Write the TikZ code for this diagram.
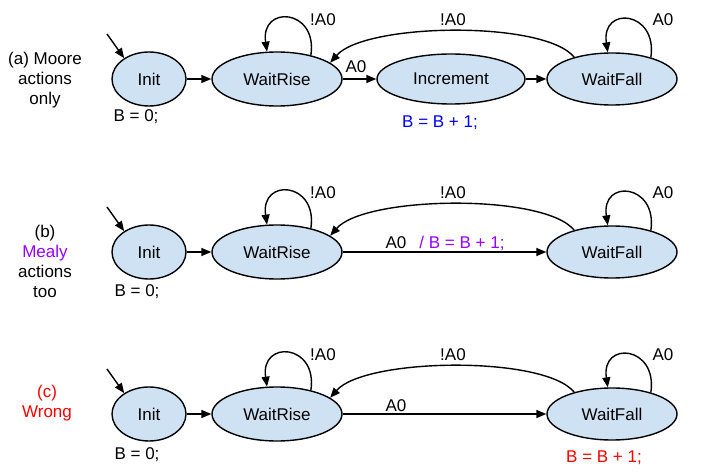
\documentclass[tikz,border=0pt]{standalone}
\usepackage{fontspec}
\setmainfont{Liberation Sans}
\usetikzlibrary{arrows.meta,shapes.geometric}
\definecolor{sfill}{HTML}{CFE2F3}
\definecolor{mblue}{HTML}{0000FF}
\definecolor{mpurple}{HTML}{9900FF}
\definecolor{mred}{HTML}{FF0000}
\begin{document}
\begin{tikzpicture}[x=1pt,y=-1pt,
  state/.style={ellipse, draw, fill=sfill, line width=1.4pt, inner sep=0pt,
    minimum height=54pt, font=\fontsize{17}{20}\selectfont},
  lab/.style={font=\fontsize{17}{20}\selectfont, inner sep=0pt},
  side/.style={font=\fontsize{17}{20}\selectfont, inner sep=0pt, align=center},
  arr/.style={-{Triangle[length=10pt,width=8pt]}, line width=1.4pt},
  selfloop/.style={arr}]
\useasboundingbox (0,0) rectangle (720,473);
\fill[white] (0,0) rectangle (720,473);

% ---------------- Row (a) ----------------
\node[side] (sa) at (45,80) {(a) Moore\\actions\\only};
\node[state, minimum width=74pt] (Ia) at (149,79) {Init};
\node[state, minimum width=130pt] (Ra) at (277,79) {WaitRise};
\node[state, minimum width=148pt, minimum height=50pt] (Na) at (451,79) {Increment};
\node[state, minimum width=130pt, minimum height=52pt] (Fa) at (612,79) {WaitFall};
\coordinate (sta) at (107,34);
\draw[arr] (sta) -- (Ia.140);
\draw[arr] (Ia) -- (Ra);
\draw[arr] (Ra) -- (Na);
\draw[arr] (Na) -- (Fa);
\draw[selfloop] (Ra.35) .. controls +(7,-47) and +(-7,-47) .. (Ra.110);
\draw[selfloop] (Fa.29) .. controls +(7,-47) and +(-7,-47) .. (Fa.99);
\draw[arr] (Fa.150) .. controls +(-30,-37) and +(35,-40) .. (Ra.17);
\node[lab] (la1) at (323,20) {!A0};
\node[lab] (la2) at (453,20) {!A0};
\node[lab] (la3) at (663,20) {A0};
\node[lab] (la4) at (356,67) {A0};
\node[lab] (ba) at (136,117) {B = 0;};
\node[lab, text=mblue] (ca) at (440,123) {B = B + 1;};

% ---------------- Row (b) ----------------
\node[side] (sb) at (45,261) {(b)\\\textcolor{mpurple}{Mealy}\\actions\\too};
\node[state, minimum width=74pt] (Ib) at (149,252) {Init};
\node[state, minimum width=130pt] (Rb) at (277,252) {WaitRise};
\node[state, minimum width=130pt, minimum height=52pt] (Fb) at (612,252) {WaitFall};
\coordinate (stb) at (107,207);
\draw[arr] (stb) -- (Ib.140);
\draw[arr] (Ib) -- (Rb);
\draw[arr] (Rb) -- (Fb);
\draw[selfloop] (Rb.35) .. controls +(7,-47) and +(-7,-47) .. (Rb.110);
\draw[selfloop] (Fb.29) .. controls +(7,-47) and +(-7,-47) .. (Fb.99);
\draw[arr] (Fb.150) .. controls +(-30,-37) and +(35,-40) .. (Rb.17);
\node[lab] (lb1) at (323,193) {!A0};
\node[lab] (lb2) at (453,193) {!A0};
\node[lab] (lb3) at (663,193) {A0};
\node[lab] (lb4) at (396,243) {A0};
\node[lab, text=mpurple] (lb5) at (462,243) {/ B = B + 1;};
\node[lab] (bb) at (137,292) {B = 0;};

% ---------------- Row (c) ----------------
\node[side, text=mred] (sc) at (47,403) {(c)\\Wrong};
\node[state, minimum width=74pt] (Ic) at (149,414) {Init};
\node[state, minimum width=130pt] (Rc) at (277,414) {WaitRise};
\node[state, minimum width=130pt, minimum height=52pt] (Fc) at (612,414) {WaitFall};
\coordinate (stc) at (107,369);
\draw[arr] (stc) -- (Ic.140);
\draw[arr] (Ic) -- (Rc);
\draw[arr] (Rc) -- (Fc);
\draw[selfloop] (Rc.35) .. controls +(7,-47) and +(-7,-47) .. (Rc.110);
\draw[selfloop] (Fc.29) .. controls +(7,-47) and +(-7,-47) .. (Fc.99);
\draw[arr] (Fc.150) .. controls +(-30,-37) and +(35,-40) .. (Rc.17);
\node[lab] (lc1) at (323,355) {!A0};
\node[lab] (lc2) at (453,355) {!A0};
\node[lab] (lc3) at (663,355) {A0};
\node[lab] (lc4) at (396,406) {A0};
\node[lab] (bc) at (137,455) {B = 0;};
\node[lab, text=mred] (cc) at (604,458) {B = B + 1;};
\end{tikzpicture}
\end{document}
